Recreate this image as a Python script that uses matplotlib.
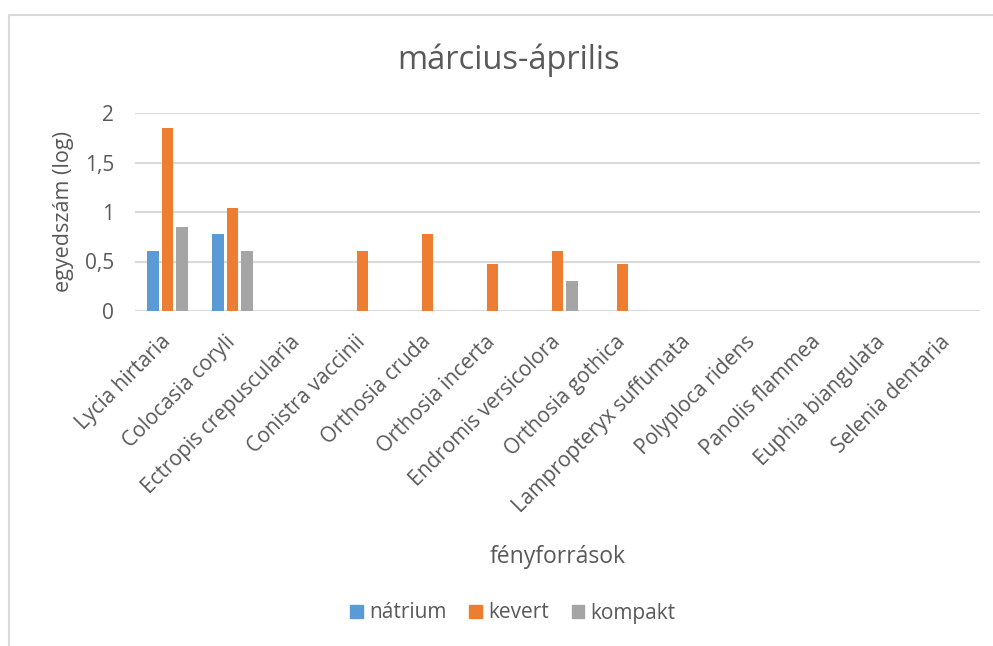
import numpy as np
import matplotlib.pyplot as plt
from matplotlib.lines import Line2D
from matplotlib.patches import Patch

plt.rcParams['font.family'] = ['Open Sans', 'DejaVu Sans']

fajok = ['Lycia hirtaria', 'Colocasia coryli', 'Ectropis crepuscularia',
         'Conistra vaccinii', 'Orthosia cruda', 'Orthosia incerta',
         'Endromis versicolora', 'Orthosia gothica', 'Lampropteryx suffumata',
         'Polyploca ridens', 'Panolis flammea', 'Euphia biangulata',
         'Selenia dentaria']
natrium = [0.602, 0.778, 0, 0, 0, 0, 0, 0, 0, 0, 0, 0, 0]
kevert = [1.851, 1.041, 0, 0.602, 0.778, 0.477, 0.602, 0.477, 0, 0, 0, 0, 0]
kompakt = [0.845, 0.602, 0, 0, 0, 0, 0.301, 0, 0, 0, 0, 0, 0]
sorozatok = ['nátrium', 'kevert', 'kompakt']
szinek = ['#5B9BD5', '#ED7D31', '#A5A5A5']
yticks = [0, 0.5, 1, 1.5, 2]
ytick_labels = ['0', '0,5', '1', '1,5', '2']

szoveg = '#595959'
racs = '#D9D9D9'

fig = plt.figure(figsize=(9.93, 6.46), dpi=100)
ax = fig.add_axes([135 / 993, 1 - 311 / 646, 845 / 993, 198 / 646])

x = np.arange(len(fajok))
w = 0.18
for i, (vals, c) in enumerate(zip([natrium, kevert, kompakt], szinek)):
    ax.bar(x + (i - 1) * 0.22, vals, width=w, color=c, zorder=3)

ax.set_xlim(-0.5, len(fajok) - 0.5)
ax.set_ylim(0, 2)
ax.set_yticks(yticks)
ax.set_yticklabels(ytick_labels)
ax.grid(axis='y', color=racs, linewidth=1.5, zorder=0)
for s in ax.spines.values():
    s.set_visible(False)
ax.tick_params(axis='both', length=0, labelsize=15, colors=szoveg)
ax.tick_params(axis='y', pad=15)
ax.set_xticks(x)
ax.set_xticklabels(fajok, rotation=45, ha='right', va='center',
                   rotation_mode='anchor')
ax.tick_params(axis='x', pad=20)

ax.set_ylabel('egyedszám (log)', fontsize=15.5, color=szoveg)
ax.yaxis.set_label_coords((74 - 135) / 845, 0.5)
ax.set_xlabel('fényforrások', fontsize=16.5, color=szoveg)
ax.xaxis.set_label_coords(0.5, (311 - 545) / 198)
fig.text(509 / 993, 1 - 60 / 646, 'március-április', fontsize=23.5,
         color=szoveg, ha='center', va='center')

handles = [Patch(color=c) for c in szinek]
fig.legend(handles, sorozatok, loc='center', bbox_to_anchor=(513 / 993, 1 - 613 / 646),
           ncol=3, frameon=False, fontsize=15, labelcolor=szoveg,
           handlelength=0.6, handleheight=0.6, handletextpad=0.3,
           columnspacing=1.1)

# chart border
fig.add_artist(Line2D([8.5 / 993, 8.5 / 993, 1.0], [0, 1 - 14.5 / 646, 1 - 14.5 / 646],
                      transform=fig.transFigure, color=racs, linewidth=1.5))

fig.savefig('out.png', dpi=100)
